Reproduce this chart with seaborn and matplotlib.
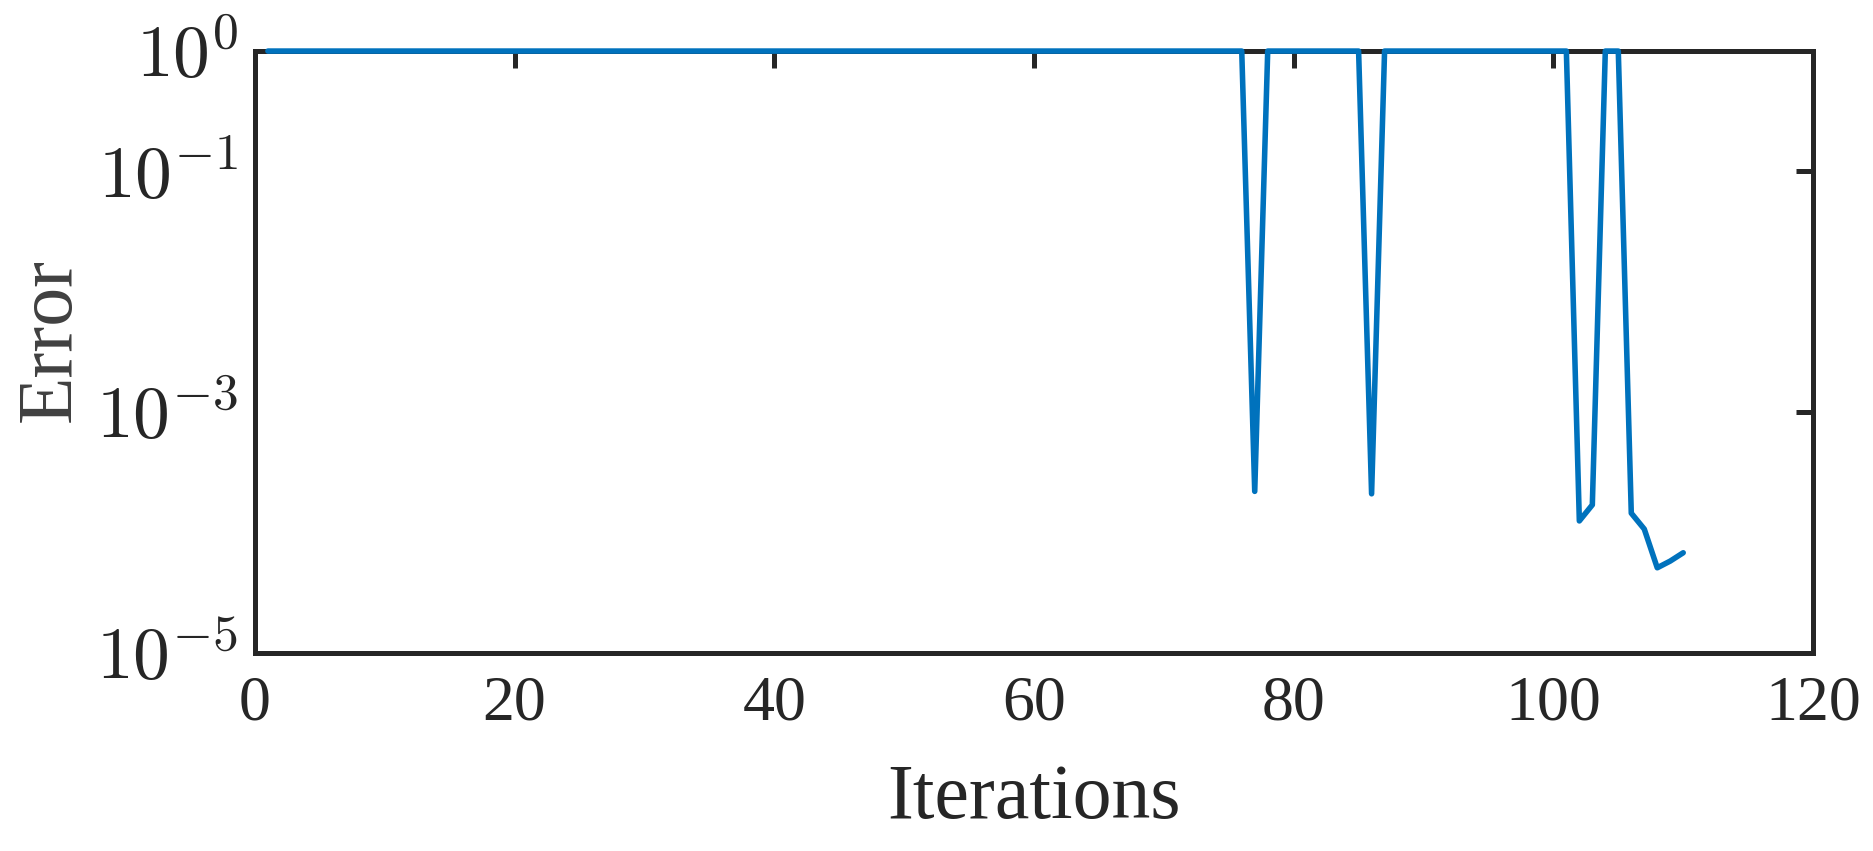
import numpy as np
import pandas as pd
import matplotlib
matplotlib.use("Agg")
import matplotlib.pyplot as plt
import seaborn as sns

# Error per iteration (log scale)
iterations = np.arange(1, 111)
error = [
    1.0, 1.0, 1.0, 1.0, 1.0, 1.0, 1.0, 1.0, 1.0, 1.0,          # 1-10
    1.0, 1.0, 1.0, 1.0, 1.0, 1.0, 1.0, 1.0, 1.0, 1.0,          # 11-20
    1.0, 1.0, 1.0, 1.0, 1.0, 1.0, 1.0, 1.0, 1.0, 1.0,          # 21-30
    1.0, 1.0, 1.0, 1.0, 1.0, 1.0, 1.0, 1.0, 1.0, 1.0,          # 31-40
    1.0, 1.0, 1.0, 1.0, 1.0, 1.0, 1.0, 1.0, 1.0, 1.0,          # 41-50
    1.0, 1.0, 1.0, 1.0, 1.0, 1.0, 1.0, 1.0, 1.0, 1.0,          # 51-60
    1.0, 1.0, 1.0, 1.0, 1.0, 1.0, 1.0, 1.0, 1.0, 1.0,          # 61-70
    1.0, 1.0, 1.0, 1.0, 1.0, 1.0, 2.2e-4, 1.0, 1.0, 1.0,       # 71-80
    1.0, 1.0, 1.0, 1.0, 1.0, 2.1e-4, 1.0, 1.0, 1.0, 1.0,       # 81-90
    1.0, 1.0, 1.0, 1.0, 1.0, 1.0, 1.0, 1.0, 1.0, 1.0,          # 91-100
    1.0, 1.25e-4, 1.7e-4, 1.0, 1.0, 1.45e-4, 1.07e-4, 5.1e-5, 5.8e-5, 6.8e-5,  # 101-110
]

x_ticks = [0, 20, 40, 60, 80, 100, 120]
y_ticks = [1e-5, 1e-3, 1e-1, 1e0]
y_tick_labels = [r"$10^{-5}$", r"$10^{-3}$", r"$10^{-1}$", r"$10^{0}$"]

df = pd.DataFrame({"Iterations": iterations, "Error": error})

sns.set_style("white")
plt.rcParams["font.family"] = ["Liberation Serif", "DejaVu Serif"]
plt.rcParams["mathtext.fontset"] = "cm"

dark = "#262626"

fig = plt.figure(figsize=(18.73, 8.51), dpi=100)
ax = fig.add_axes([0.1361, 0.2327, 0.8319, 0.7073])

sns.lineplot(data=df, x="Iterations", y="Error", ax=ax, color="#0072BD",
             linewidth=4.0, clip_on=False, zorder=3)

ax.set_yscale("log")
ax.set_xlim(0, 120)
ax.set_ylim(1e-5, 1)
ax.set_xticks(x_ticks)
ax.set_yticks(y_ticks)
ax.set_yticklabels(y_tick_labels)
ax.minorticks_off()

ax.tick_params(axis="both", which="major", direction="in", length=12, width=3.6,
               color=dark, labelcolor=dark, top=True, right=True)
ax.tick_params(axis="x", labelsize=46, pad=16)
ax.tick_params(axis="y", labelsize=53, pad=12)

for s in ax.spines.values():
    s.set_visible(True)
    s.set_linewidth(3.6)
    s.set_color(dark)

ax.set_xlabel("Iterations", fontsize=56, color=dark, labelpad=22)
ax.set_ylabel("Error", fontsize=56, color="#404040")
ax.yaxis.set_label_coords(-0.108, 0.52)

fig.savefig("out.png", dpi=100)
